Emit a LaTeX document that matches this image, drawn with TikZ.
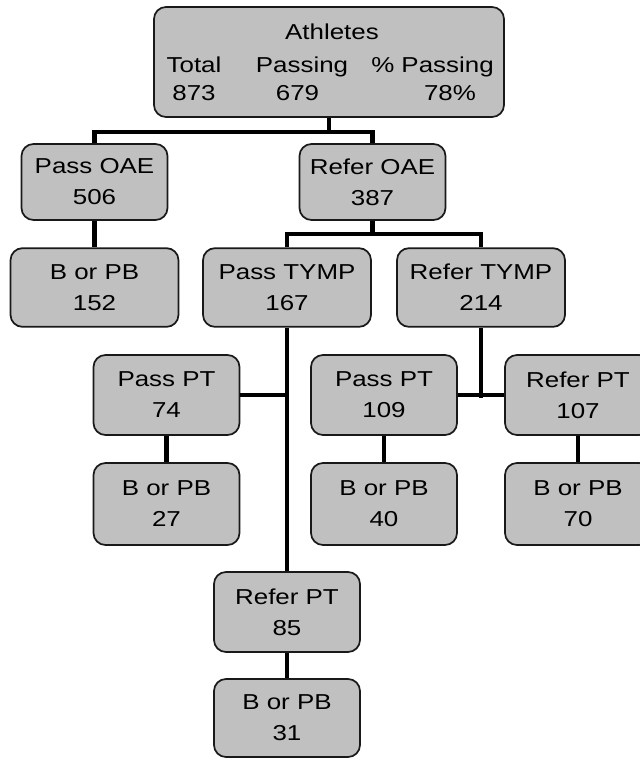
\documentclass[tikz,border=0pt]{standalone}
\usepackage{fontspec}
\setmainfont[FakeStretch=1.2]{Liberation Sans}
\definecolor{boxgray}{RGB}{192,192,192}
\begin{document}
\begin{tikzpicture}[x=0.75pt,y=-0.75pt,
  box/.style={draw=black!90, fill=boxgray, line width=1.3pt, rounded corners=9pt,
    align=center, inner sep=0pt, minimum height=59pt,
    font=\fontsize{16.2}{23.25}\selectfont},
  narrow/.style={box, minimum width=109.5pt},
  wide/.style={box, minimum width=126pt},
  lbl/.style={anchor=base, inner sep=0pt, font=\fontsize{16.2}{19}\selectfont},
  conn/.style={line width=3.4pt, line join=miter}]
\fill[white] (0,0) rectangle (640,758);
\clip (0,0) rectangle (640,758);
% top box
\node[box, minimum width=262.5pt, minimum height=82.5pt] (ath) at (329,62) {};
\node[lbl] (athTitle) at (332,39) {Athletes};
\node[lbl] (hTotal) at (194,72) {Total};
\node[lbl] (hPass) at (302,72) {Passing};
\node[lbl] (hPct) at (432.5,72) {\% Passing};
\node[lbl] (vTotal) at (194,100) {873};
\node[lbl] (vPass) at (297.5,100) {679};
\node[lbl] (vPct) at (450,100) {78\%};
% row 1
\node[narrow, minimum height=57pt] (passoae) at (94.5,182) {Pass OAE\\506};
\node[narrow, minimum height=57pt] (referoae) at (372.5,182) {Refer OAE\\387};
% row 2
\node[wide] (bpb152) at (94.5,287.5) {B or PB\\152};
\node[wide] (passtymp) at (287,287.5) {Pass TYMP\\167};
\node[wide] (refertymp) at (481,287.5) {Refer TYMP\\214};
% row 3
\node[narrow, minimum height=60pt] (passpt74) at (166.5,395) {Pass PT\\74};
\node[narrow, minimum height=60pt] (passpt109) at (384,395) {Pass PT\\109};
\node[narrow, minimum height=60pt] (referpt107) at (578,395) {Refer PT\\107};
% row 4
\node[narrow, minimum height=61.5pt] (bpb27) at (166.5,504) {B or PB\\27};
\node[narrow, minimum height=61.5pt] (bpb40) at (384,504) {B or PB\\40};
\node[narrow, minimum height=61.5pt] (bpb70) at (578,504) {B or PB\\70};
% rows 5-6
\node[narrow, minimum height=60pt] (referpt85) at (287,612) {Refer PT\\85};
\node[narrow, minimum height=58.5pt] (bpb31) at (287,718) {B or PB\\31};
% connectors
\coordinate (j1) at (329,132);
\coordinate (j2) at (372.5,234);
\coordinate (rtend) at (481,398);
\draw[conn] (ath.south) -- (j1);
\draw[conn] (passoae.north) |- (j1) -| (referoae.north);
\draw[conn] (passoae.south) -- (bpb152.north);
\draw[conn] (referoae.south) -- (j2);
\draw[conn] (passtymp.north) |- (j2) -| (refertymp.north);
\draw[conn] (passtymp.south) -- (referpt85.north);
\draw[conn] (passpt74.east) -- (passpt74.east -| passtymp.south);
\draw[conn] (refertymp.south) -- (rtend);
\draw[conn] (passpt109.east) -- (referpt107.west);
\draw[conn] (passpt74.south) -- (bpb27.north);
\draw[conn] (passpt109.south) -- (bpb40.north);
\draw[conn] (referpt107.south) -- (bpb70.north);
\draw[conn] (referpt85.south) -- (bpb31.north);
\end{tikzpicture}
\end{document}
